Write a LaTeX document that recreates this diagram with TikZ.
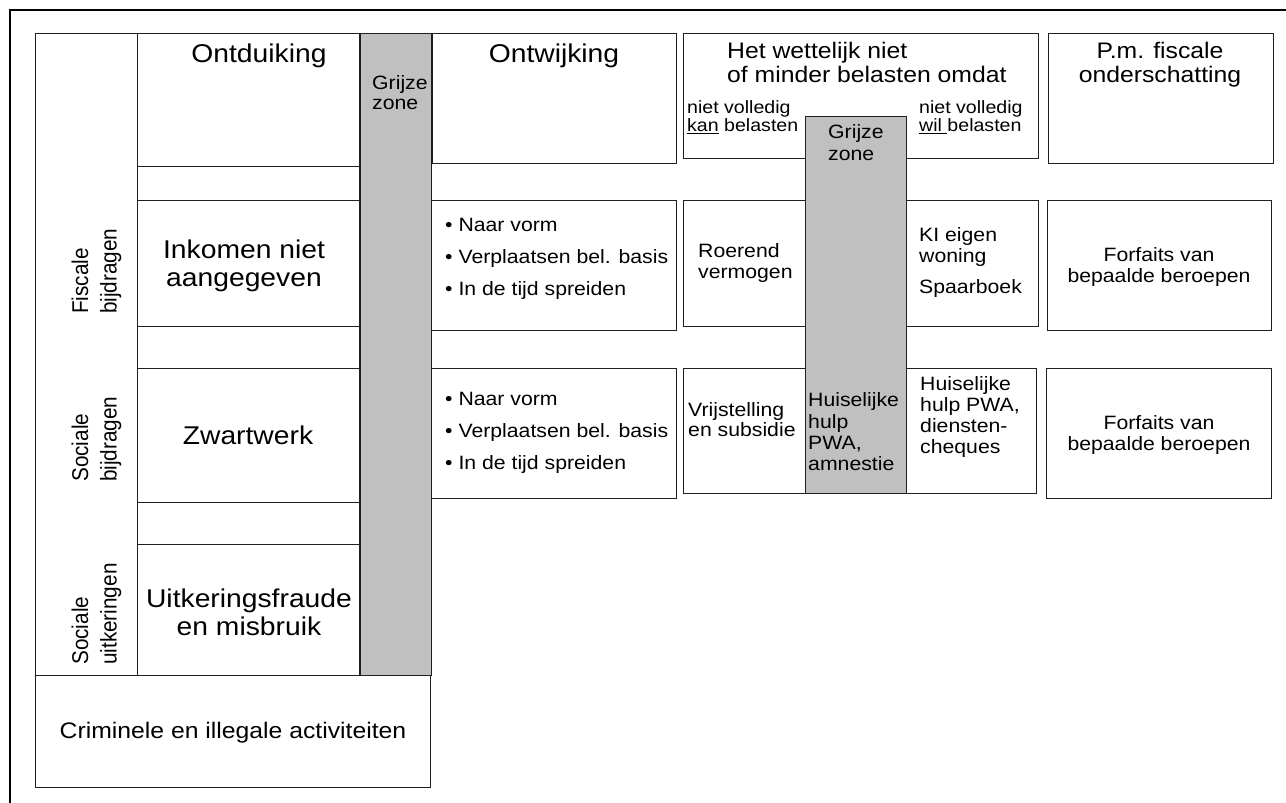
\documentclass[tikz,border=0pt]{standalone}
\usepackage{fontspec}
\setmainfont[FakeStretch=1.1]{Liberation Sans}
\newfontfamily\rotfont[FakeStretch=0.909]{Liberation Sans}
\definecolor{greyz}{HTML}{C0C0C0}
\definecolor{edge}{HTML}{1E1E1E}
\tikzset{
  box/.style={draw=edge, line width=1.2pt, inner sep=0pt, anchor=north west},
  greybox/.style={box, fill=greyz},
  lbl/.style={inner sep=0pt, align=left, anchor=base west},
  clbl/.style={inner sep=0pt, align=center, anchor=base},
  bigf/.style={font=\fontsize{25.7}{28}\selectfont},
  titf/.style={font=\fontsize{22.5}{24.5}\selectfont},
  medf/.style={font=\fontsize{19.3}{21}\selectfont},
  smallf/.style={font=\fontsize{17.8}{18.4}\selectfont},
  rotf/.style={font=\rotfont\fontsize{22.8}{28.4}\selectfont, rotate=90},
}
\begin{document}
\begin{tikzpicture}[x=1pt,y=-1pt]
\useasboundingbox (0,0) rectangle (1286,803);
% outer frame (cropped)
\draw[line width=2.5pt, black] (10,803) -- (10,10) -- (1286,10);

% left block
\node[box, minimum width=102pt, minimum height=642pt] (cat) at (35,33) {};
\node[box, minimum width=222pt, minimum height=133pt] (ontd) at (137,33) {};
\node[box, minimum width=222pt, minimum height=34pt] (gap1) at (137,166) {};
\node[box, minimum width=222pt, minimum height=126pt] (ink) at (137,200) {};
\node[box, minimum width=222pt, minimum height=42pt] (gap2) at (137,326) {};
\node[box, minimum width=222pt, minimum height=134pt] (zw) at (137,368) {};
\node[box, minimum width=222pt, minimum height=42pt] (gap3) at (137,502) {};
\node[box, minimum width=222pt, minimum height=131pt] (uitk) at (137,544) {};
\node[greybox, minimum width=71pt, minimum height=642pt] (grey1) at (360,33) {};
\node[box, minimum width=395pt, minimum height=112pt] (crim) at (35,675) {};

% middle block
\node[box, minimum width=244pt, minimum height=130pt] (ontw) at (432,33) {};
\node[box, minimum width=245pt, minimum height=130pt] (bul1) at (431,200) {};
\node[box, minimum width=245pt, minimum height=130pt] (bul2) at (431,368) {};

% wettelijk block
\node[box, minimum width=355pt, minimum height=125pt] (wett) at (683,33) {};
\node[box, minimum width=122pt, minimum height=126pt] (roer) at (683,200) {};
\node[box, minimum width=122pt, minimum height=125pt] (vrij) at (683,368) {};
\node[box, minimum width=132pt, minimum height=126pt] (ki) at (906,200) {};
\node[box, minimum width=130pt, minimum height=125pt] (huis) at (906,368) {};
\node[greybox, minimum width=101pt, minimum height=377pt] (grey2) at (805,116) {};

% right block
\node[box, minimum width=225pt, minimum height=130pt] (pm) at (1048,33) {};
\node[box, minimum width=224pt, minimum height=130pt] (forf1) at (1047,200) {};
\node[box, minimum width=225pt, minimum height=130pt] (forf2) at (1046,368) {};

% texts left (multi-line nodes anchored at the baseline of their last line)
\node[clbl, bigf] (tontd) at (259,62) {Ontduiking};
\node[clbl, bigf] (tink) at (244,286) {Inkomen niet\\aangegeven};
\node[clbl, bigf] (tzw) at (248,444) {Zwartwerk};
\node[clbl, bigf] (tuitk) at (249,635) {Uitkeringsfraude\\en misbruik};
\node[clbl, titf] (tcrim) at (233,738) {Criminele en illegale activiteiten};
\node[lbl, font=\fontsize{19.3}{20}\selectfont] (tg1) at (372,109) {Grijze\\zone};
\node[lbl, rotf] (tfisc) at (116.5,314) {Fiscale\\bijdragen};
\node[lbl, rotf] (tsoc) at (116.5,482) {Sociale\\bijdragen};
\node[lbl, rotf] (tsocu) at (116.5,665) {Sociale\\uitkeringen};

% texts middle
\node[clbl, bigf] (tontw) at (554,62) {Ontwijking};
\node[lbl, medf] (tb1) at (445,295) {• Naar vorm\\[11pt]• Verplaatsen bel. basis\\[11pt]• In de tijd spreiden};
\node[lbl, medf] (tb2) at (445,469) {• Naar vorm\\[11pt]• Verplaatsen bel. basis\\[11pt]• In de tijd spreiden};

% texts wettelijk
\node[lbl, titf] (twett) at (727,82.7) {Het wettelijk niet\\of minder belasten omdat};
\node[lbl, smallf] (tkan) at (687,131.7) {niet volledig\\\underline{kan} belasten};
\node[lbl, smallf] (twil) at (919,131.7) {niet volledig\\\underline{wil\ }belasten};
\node[lbl, font=\fontsize{19.3}{21.5}\selectfont] (tg2) at (828,160) {Grijze\\zone};
\node[lbl, medf] (troer) at (698,278.3) {Roerend\\vermogen};
\node[lbl, medf] (tki) at (919,293.3) {KI eigen\\woning\\[10pt]Spaarboek};
\node[lbl, font=\fontsize{19.3}{20}\selectfont] (tvrij) at (688,436.7) {Vrijstelling\\en subsidie};
\node[lbl, font=\fontsize{19.3}{21.3}\selectfont] (thuisg) at (808,470.7) {Huiselijke\\hulp\\PWA,\\amnestie};
\node[lbl, font=\fontsize{19.3}{20.8}\selectfont] (thuis) at (920,453.3) {Huiselijke\\hulp PWA,\\diensten-\\cheques};

% texts right
\node[clbl, titf] (tpm) at (1160,82.7) {P.m. fiscale\\onderschatting};
\node[clbl, medf] (tf1) at (1159,282.7) {Forfaits van\\bepaalde beroepen};
\node[clbl, medf] (tf2) at (1159,450.7) {Forfaits van\\bepaalde beroepen};
\end{tikzpicture}
\end{document}
